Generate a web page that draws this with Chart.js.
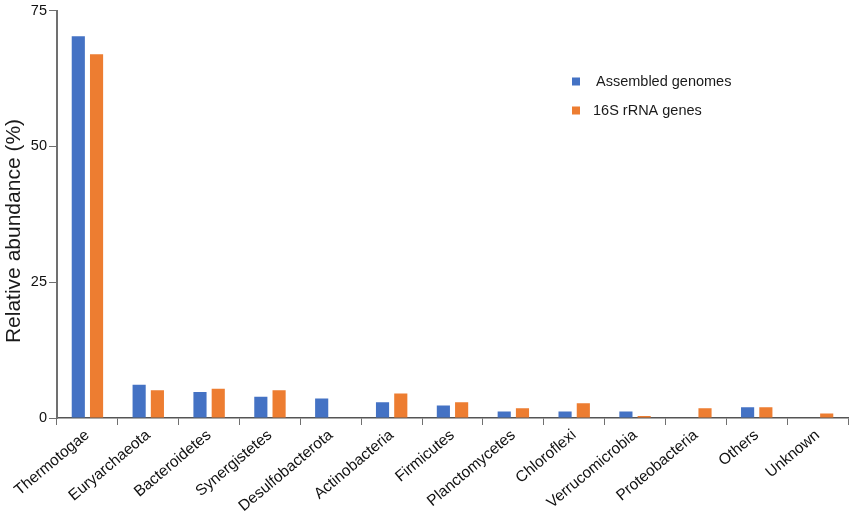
<!DOCTYPE html>
<html>
<head>
<meta charset="utf-8">
<script src="https://cdn.jsdelivr.net/npm/chart.js@4"></script>
<style>
  html, body { margin: 0; padding: 0; background: #fff; }
  #wrap { width: 851px; height: 517px; }
</style>
</head>
<body>
<div id="wrap"><canvas id="abundanceChart"></canvas></div>
<script>
var phyla = ['Thermotogae', 'Euryarchaeota', 'Bacteroidetes', 'Synergistetes', 'Desulfobacterota',
  'Actinobacteria', 'Firmicutes', 'Planctomycetes', 'Chloroflexi', 'Verrucomicrobia',
  'Proteobacteria', 'Others', 'Unknown'];
var assembled = [70.3, 6.1, 4.8, 3.9, 3.6, 2.9, 2.3, 1.2, 1.2, 1.2, 0, 2.0, 0];
var rrna16s = [67.0, 5.1, 5.4, 5.1, 0, 4.5, 2.9, 1.8, 2.7, 0.35, 1.8, 2.0, 0.85];
var yTicks = [0, 25, 50, 75];
var yTitle = 'Relative abundance (%)';

var fontFamily = '"Liberation Sans", Arial, Helvetica, sans-serif';
var axisGray = '#707070';

// legend inside the plot (top right) + y title sitting a bit low, like the original
var extras = {
  id: 'extras',
  afterDraw: function(chart) {
    var ctx = chart.ctx;
    var x = 572, y = 81.5, rowGap = 29;
    ctx.save();
    ctx.font = '14.5px ' + fontFamily;
    ctx.textBaseline = 'middle';
    chart.data.datasets.forEach(function(ds, i) {
      var cy = y + i * rowGap;
      ctx.fillStyle = ds.backgroundColor;
      ctx.fillRect(x, cy - 4, 8, 8);
      ctx.fillStyle = '#1a1a1a';
      ctx.fillText(ds.label, x + 24 - (i ? 3 : 0), cy);
    });
    ctx.translate(14, 231);
    ctx.rotate(-Math.PI / 2);
    ctx.textAlign = 'center';
    ctx.font = '21px ' + fontFamily;
    ctx.fillText(yTitle, 0, 0);
    ctx.restore();
  }
};

var ctx = document.getElementById('abundanceChart').getContext('2d');
var chart = new Chart(ctx, {
  type: 'bar',
  data: {
    labels: phyla,
    datasets: [{
      label: 'Assembled genomes',
      backgroundColor: '#4472C4',
      data: assembled
    }, {
      label: '16S rRNA genes',
      backgroundColor: '#ED7D31',
      data: rrna16s
    }]
  },
  options: {
    responsive: true,
    maintainAspectRatio: false,
    animation: false,
    categoryPercentage: 0.6,
    barPercentage: 0.72,
    layout: { padding: { top: 10, right: 3, left: 0, bottom: 0 } },
    plugins: {
      legend: { display: false },
      tooltip: { enabled: false }
    },
    scales: {
      x: {
        grid: { offset: true, drawOnChartArea: false, tickLength: 7, color: axisGray, lineWidth: 1 },
        border: { color: '#555', width: 1.5 },
        ticks: {
          autoSkip: false, maxRotation: 40, minRotation: 40, padding: 1,
          color: '#111', font: { family: fontFamily, size: 15.5 }
        },
        afterFit: function(scale) { scale.height = 99; }
      },
      y: {
        min: 0, max: 75,
        afterBuildTicks: function(scale) {
          scale.ticks = yTicks.map(function(v) { return { value: v }; });
        },
        grid: { drawOnChartArea: false, tickLength: 8, color: axisGray, lineWidth: 1 },
        border: { color: axisGray, width: 2 },
        ticks: { padding: 2, color: '#111', font: { family: fontFamily, size: 14.5 } },
        afterFit: function(scale) { scale.width = 57; }
      }
    }
  },
  plugins: [extras]
});
</script>
</body>
</html>
